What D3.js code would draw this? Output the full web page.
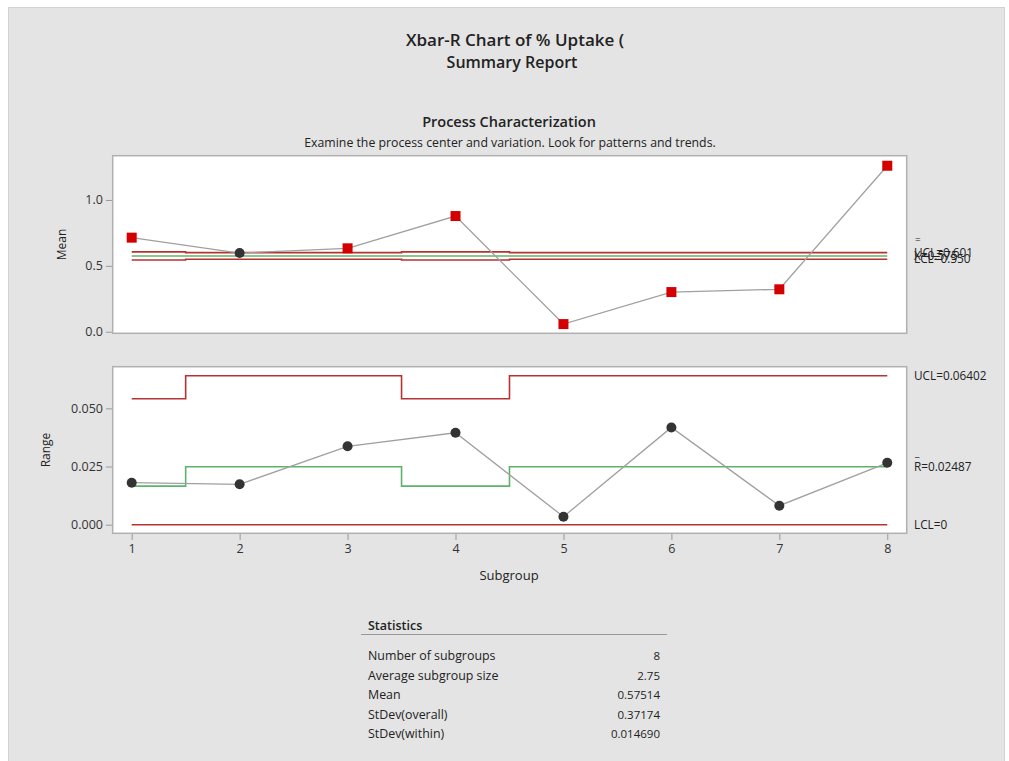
<!DOCTYPE html>
<html>
<head>
<meta charset="utf-8">
<script src="https://cdn.jsdelivr.net/npm/d3@7/dist/d3.min.js"></script>
<style>
  html, body { margin: 0; padding: 0; background: #ffffff; }
  svg { display: block; font-family: "Open Sans", "Noto Sans", sans-serif; }
</style>
</head>
<body>
<svg id="chart" width="1009" height="761"></svg>
<script>
// Subgroups and their sizes
const subgroups = [1, 2, 3, 4, 5, 6, 7, 8];
const subgroupSizes = [2, 3, 3, 2, 3, 3, 3, 3];

// Subgroup means and ranges
const means  = [0.714, 0.597, 0.633, 0.878, 0.058, 0.301, 0.322, 1.260];
const ranges = [0.01804, 0.01735, 0.0337, 0.0395, 0.00344, 0.0418, 0.00816, 0.0266];

// Xbar chart control limits per subgroup
const xbarCenter = 0.57514;
const xbarUCL = [0.6063, 0.6006, 0.6006, 0.6063, 0.6006, 0.6006, 0.6006, 0.6006];
const xbarLCL = [0.5440, 0.5497, 0.5497, 0.5440, 0.5497, 0.5497, 0.5497, 0.5497];

// R chart control limits per subgroup
const rUCL    = [0.05414, 0.06402, 0.06402, 0.05414, 0.06402, 0.06402, 0.06402, 0.06402];
const rCenter = [0.01657, 0.02487, 0.02487, 0.01657, 0.02487, 0.02487, 0.02487, 0.02487];
const rLCL    = [0, 0, 0, 0, 0, 0, 0, 0];

// Tick labels
const meanTicks  = [0.0, 0.5, 1.0];
const rangeTicks = [0.000, 0.025, 0.050];

// Summary statistics table
const statLabels = ["Number of subgroups", "Average subgroup size", "Mean", "StDev(overall)", "StDev(within)"];
const statValues = ["8", "2.75", "0.57514", "0.37174", "0.014690"];

const svg = d3.select("#chart");
const RED = "#b83232", GREEN = "#5cb46a", GREYLINE = "#a0a0a0", INK = "#222";

// Report background panel
svg.append("rect").attr("x", 8.5).attr("y", 7.5).attr("width", 996).attr("height", 760)
  .attr("fill", "#e4e4e4").attr("stroke", "#d2d2d2");

// Titles
svg.append("text").attr("x", 515).attr("y", 46).attr("text-anchor", "middle")
  .attr("font-size", 17).attr("font-weight", 600).attr("fill", INK).text("Xbar-R Chart of % Uptake (");
svg.append("text").attr("x", 512).attr("y", 68).attr("text-anchor", "middle")
  .attr("font-size", 16).attr("font-weight", 600).attr("fill", INK).text("Summary Report");
svg.append("text").attr("x", 509).attr("y", 127).attr("text-anchor", "middle")
  .attr("font-size", 14.5).attr("font-weight", 600).attr("fill", INK).text("Process Characterization");
svg.append("text").attr("x", 510).attr("y", 147).attr("text-anchor", "middle")
  .attr("font-size", 12.3).attr("fill", INK).text("Examine the process center and variation. Look for patterns and trends.");

const left = 112.7, right = 906.7;
const x = d3.scaleLinear().domain([0.824, 8.18]).range([left, right]);

function stepPoints(vals) {
  const pts = [];
  vals.forEach((v, i) => {
    const s = subgroups[i];
    pts.push([Math.max(1, s - 0.5), v]);
    pts.push([Math.min(8, s + 0.5), v]);
  });
  return pts;
}

function panel(opts) {
  const y = d3.scaleLinear().domain(opts.domain).range([opts.bottom, opts.top]);
  const g = svg.append("g");
  g.append("rect").attr("x", left).attr("y", opts.top).attr("width", right - left)
    .attr("height", opts.bottom - opts.top).attr("fill", "#fff")
    .attr("stroke", "#b0b0b0").attr("stroke-width", 1.5);

  const yAxis = d3.axisLeft(y).tickValues(opts.ticks).tickFormat(opts.fmt).tickSize(6).tickPadding(3);
  const ya = g.append("g").attr("transform", `translate(${left - 0.75},0)`).call(yAxis);
  ya.select(".domain").remove();
  ya.selectAll(".tick line").attr("stroke", "#999");
  ya.selectAll(".tick text").attr("font-size", 12.5).attr("fill", "#333").attr("font-family", "Open Sans");

  g.append("text").attr("transform", `translate(${opts.ylabX},${(opts.top + opts.bottom) / 2}) rotate(-90)`)
    .attr("text-anchor", "middle").attr("font-size", 12).attr("fill", INK).text(opts.ylabel);

  const line = d3.line().x(d => x(d[0])).y(d => y(d[1]));
  opts.limits.forEach(l => {
    g.append("path").attr("d", line(stepPoints(l.vals))).attr("fill", "none")
      .attr("stroke", l.color).attr("stroke-width", 1.6);
  });

  g.append("path").attr("d", line(opts.values.map((v, i) => [subgroups[i], v])))
    .attr("fill", "none").attr("stroke", GREYLINE).attr("stroke-width", 1.3);

  opts.values.forEach((v, i) => {
    const cx = x(subgroups[i]), cy = y(v);
    if (opts.isOut(v, i)) {
      g.append("rect").attr("x", cx - 5).attr("y", cy - 5).attr("width", 10).attr("height", 10)
        .attr("fill", "#d40000");
    } else {
      g.append("circle").attr("cx", cx).attr("cy", cy).attr("r", 5).attr("fill", "#333");
    }
  });
  return { g, y };
}

// Xbar chart
const meanPanel = panel({
  top: 155.7, bottom: 333.3, domain: [-0.012, 1.336], ticks: meanTicks, fmt: d3.format(".1f"),
  ylabel: "Mean", ylabX: 66, values: means,
  limits: [
    { vals: xbarUCL, color: RED },
    { vals: subgroups.map(() => xbarCenter), color: GREEN },
    { vals: xbarLCL, color: RED }
  ],
  isOut: (v, i) => v > xbarUCL[i] || v < xbarLCL[i]
});
const ym = meanPanel.y;
const lx = 914;
meanPanel.g.append("text").attr("x", lx + 1).attr("y", ym(xbarCenter) - 13).attr("font-size", 10)
  .attr("fill", INK).text("=");
[["UCL=0.601", xbarUCL[7]], ["X=0.575", xbarCenter], ["LCL=0.550", xbarLCL[7]]].forEach(d => {
  meanPanel.g.append("text").attr("x", lx).attr("y", ym(d[1])).attr("dy", "0.35em")
    .attr("font-size", 11.8).attr("fill", INK).text(d[0]);
});

// R chart
const rangePanel = panel({
  top: 366.7, bottom: 533.3, domain: [-0.0037, 0.0679], ticks: rangeTicks, fmt: d3.format(".3f"),
  ylabel: "Range", ylabX: 50, values: ranges,
  limits: [
    { vals: rUCL, color: RED },
    { vals: rCenter, color: GREEN },
    { vals: rLCL, color: RED }
  ],
  isOut: (v, i) => v > rUCL[i] || v < rLCL[i]
});
const yr = rangePanel.y;
rangePanel.g.append("text").attr("x", lx).attr("y", yr(rUCL[7])).attr("dy", "0.35em")
  .attr("font-size", 11.8).attr("fill", INK).text("UCL=0.06402");
rangePanel.g.append("text").attr("x", lx + 1).attr("y", yr(rCenter[7]) - 11).attr("font-size", 10)
  .attr("fill", INK).text("_");
rangePanel.g.append("text").attr("x", lx).attr("y", yr(rCenter[7])).attr("dy", "0.35em")
  .attr("font-size", 11.8).attr("fill", INK).text("R=0.02487");
rangePanel.g.append("text").attr("x", lx).attr("y", yr(0)).attr("dy", "0.35em")
  .attr("font-size", 11.8).attr("fill", INK).text("LCL=0");

// Subgroup axis
const xAxis = d3.axisBottom(x).tickValues(subgroups).tickFormat(d3.format("d")).tickSize(6).tickPadding(4);
const xa = svg.append("g").attr("transform", "translate(0,534)").call(xAxis);
xa.select(".domain").remove();
xa.selectAll(".tick line").attr("stroke", "#999");
xa.selectAll(".tick text").attr("font-size", 12.5).attr("fill", "#333").attr("font-family", "Open Sans");
svg.append("text").attr("x", 509).attr("y", 580).attr("text-anchor", "middle")
  .attr("font-size", 13).attr("fill", INK).text("Subgroup");

// Statistics table
svg.append("text").attr("x", 368).attr("y", 630).attr("font-size", 12.5).attr("font-weight", 600)
  .attr("fill", INK).text("Statistics");
svg.append("line").attr("x1", 361).attr("x2", 667).attr("y1", 634.5).attr("y2", 634.5)
  .attr("stroke", "#999").attr("stroke-width", 1);
const rowY = d3.scalePoint().domain(d3.range(statLabels.length)).range([656, 734]);
statLabels.forEach((lab, i) => {
  svg.append("text").attr("x", 368).attr("y", rowY(i)).attr("dy", "0.35em")
    .attr("font-size", 12.4).attr("fill", INK).text(lab);
  svg.append("text").attr("x", 660).attr("y", rowY(i)).attr("dy", "0.35em").attr("text-anchor", "end")
    .attr("font-size", 11.5).attr("fill", INK).text(statValues[i]);
});
</script>
</body>
</html>
